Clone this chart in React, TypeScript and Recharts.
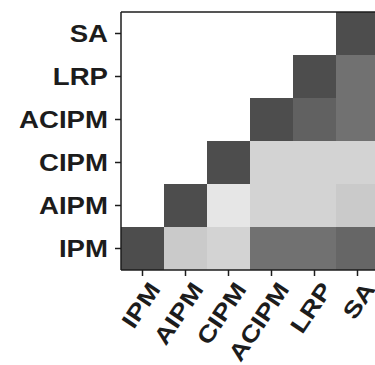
import React from 'react';
import { BarChart, Bar, XAxis, YAxis, Cell, ReferenceLine } from 'recharts';

// methods, bottom row / left column first
const methods = ['IPM', 'AIPM', 'CIPM', 'ACIPM', 'LRP', 'SA'];

// one array per row (value per column, null = empty upper triangle)
const rowIPM = [1, 0.3, 0.25, 0.8, 0.8, 0.86];
const rowAIPM = [null, 1, 0.14, 0.25, 0.25, 0.3];
const rowCIPM = [null, null, 1, 0.25, 0.25, 0.25];
const rowACIPM = [null, null, null, 1, 0.89, 0.8];
const rowLRP = [null, null, null, null, 1, 0.8];
const rowSA = [null, null, null, null, null, 1];

const rows = [rowIPM, rowAIPM, rowCIPM, rowACIPM, rowLRP, rowSA];
const yTicks = [0.5, 1.5, 2.5, 3.5, 4.5, 5.5];

// every column is a stack of six unit tiles
const chartData = methods.map((name) => {
  const d: Record<string, any> = { name };
  rows.forEach((_, i) => {
    d['r' + i] = 1;
  });
  return d;
});

const shade = (v: number | null) => {
  if (v == null) return 'transparent';
  const g = Math.round(255 - v * 178);
  return `rgb(${g},${g},${g})`;
};

const INK = '#1c1c1c';
const FONT = '"Liberation Sans", Arial, sans-serif';

const YTick = ({ x, y, payload }: any) => (
  <g transform={`translate(${x},${y}) scale(1.2,1)`}>
    <text textAnchor="end" dy="0.36em" fontSize={23} fontWeight="bold" fill={INK} fontFamily={FONT}>
      {methods[Math.round(payload.value - 0.5)]}
    </text>
  </g>
);

const XTick = ({ x, y, payload }: any) => (
  <g transform={`translate(${x + 5},${y}) rotate(-56) scale(1.2,1)`}>
    <text textAnchor="end" dy="0.72em" fontSize={23} fontWeight="bold" fill={INK} fontFamily={FONT}>
      {payload.value}
    </text>
  </g>
);

export default function App() {
  return (
    <div style={{ position: 'absolute', left: 0, top: 0, width: 375, height: 365, overflow: 'hidden', background: '#fff' }}>
      <BarChart
        width={380}
        height={365}
        data={chartData}
        margin={{ top: 12, right: 1, left: 0, bottom: 0 }}
        barCategoryGap={0}
        barGap={0}
      >
        <XAxis
          dataKey="name"
          height={95}
          tick={<XTick />}
          tickSize={6}
          tickMargin={4}
          axisLine={{ stroke: INK, strokeWidth: 1.5 }}
          tickLine={{ stroke: INK, strokeWidth: 1.5 }}
          interval={0}
        />
        <YAxis
          type="number"
          domain={[0, 6]}
          ticks={yTicks}
          width={121}
          tick={<YTick />}
          tickSize={6}
          tickMargin={7}
          axisLine={{ stroke: INK, strokeWidth: 1.5 }}
          tickLine={{ stroke: INK, strokeWidth: 1.5 }}
          allowDataOverflow
        />
        {rows.map((row, i) => (
          <Bar key={i} dataKey={'r' + i} stackId="tiles" isAnimationActive={false}>
            {row.map((v, c) => (
              <Cell key={c} fill={shade(v)} />
            ))}
          </Bar>
        ))}
        <ReferenceLine y={6} stroke={INK} strokeWidth={1.5} />
      </BarChart>
    </div>
  );
}
